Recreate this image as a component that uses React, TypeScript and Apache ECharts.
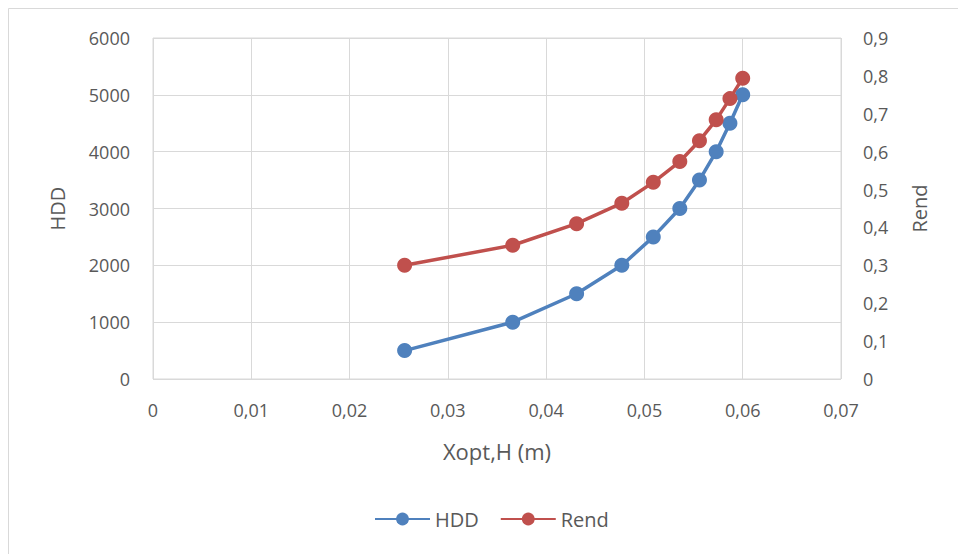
import React, { useEffect, useRef } from "react";
import * as echarts from "echarts";

const xopt = [0.0256, 0.0366, 0.0431, 0.0477, 0.0509, 0.0536, 0.0556, 0.0573, 0.0587, 0.0600];
const hdd = [500, 1000, 1500, 2000, 2500, 3000, 3500, 4000, 4500, 5000];
const rend = [0.300, 0.353, 0.410, 0.464, 0.519, 0.574, 0.629, 0.684, 0.740, 0.794];

const FONT = "'Open Sans', sans-serif";
const TXT = "#595959";
const GRID = "#d9d9d9";

const fmt = (v: number) => String(Number(v.toFixed(4))).replace(".", ",");

export default function App() {
  const ref = useRef<HTMLDivElement>(null);
  useEffect(() => {
    if (!ref.current) return;
    const chart = echarts.init(ref.current, undefined, { renderer: "svg" });
    const label = { color: TXT, fontFamily: FONT, fontSize: 18 };
    const title = { color: TXT, fontFamily: FONT, fontSize: 20 };
    chart.setOption({
      animation: false,
      backgroundColor: "#ffffff",
      textStyle: { fontFamily: FONT },
      graphic: [
        { type: "line", shape: { x1: 8.5, y1: 8.5, x2: 8.5, y2: 554 }, style: { stroke: GRID, lineWidth: 1 } },
        { type: "line", shape: { x1: 8.5, y1: 8.5, x2: 958, y2: 8.5 }, style: { stroke: GRID, lineWidth: 1 } },
      ],
      grid: { left: 153, right: 117, top: 38, bottom: 175, show: true, borderColor: GRID, borderWidth: 1 },
      legend: {
        left: 369,
        top: 504,
        itemWidth: 55,
        itemHeight: 16,
        itemGap: 21,
        textStyle: { color: TXT, fontFamily: FONT, fontSize: 20 },
        data: ["HDD", "Rend"],
      },
      xAxis: {
        type: "value",
        min: 0,
        max: 0.07,
        interval: 0.01,
        name: "Xopt,H (m)",
        nameLocation: "middle",
        nameGap: 61,
        nameTextStyle: { ...title, fontSize: 22 },
        axisLine: { show: false },
        axisTick: { show: false },
        axisLabel: { ...label, margin: 22, formatter: fmt },
        splitLine: { show: true, lineStyle: { color: GRID, width: 1 } },
      },
      yAxis: [
        {
          type: "value",
          min: 0,
          max: 6000,
          interval: 1000,
          name: "HDD",
          nameLocation: "middle",
          nameGap: 86,
          nameTextStyle: { ...title },
          axisLine: { show: false },
          axisTick: { show: false },
          axisLabel: { ...label, margin: 23, formatter: (v: number) => String(v) },
          splitLine: { show: true, lineStyle: { color: GRID, width: 1 } },
        },
        {
          type: "value",
          min: 0,
          max: 0.9,
          interval: 0.1,
          name: "Rend",
          nameLocation: "middle",
          nameGap: 68,
          nameTextStyle: { ...title },
          axisLine: { show: false },
          axisTick: { show: false },
          axisLabel: { ...label, margin: 22, formatter: fmt },
          splitLine: { show: false },
        },
      ],
      series: [
        {
          name: "HDD",
          type: "line",
          yAxisIndex: 0,
          data: xopt.map((x, i) => [x, hdd[i]]),
          symbol: "circle",
          symbolSize: 15,
          color: "#4F81BD",
          lineStyle: { width: 3.5, color: "#4F81BD" },
          itemStyle: { color: "#4F81BD" },
        },
        {
          name: "Rend",
          type: "line",
          yAxisIndex: 1,
          data: xopt.map((x, i) => [x, rend[i]]),
          symbol: "circle",
          symbolSize: 15,
          color: "#C0504D",
          lineStyle: { width: 3.5, color: "#C0504D" },
          itemStyle: { color: "#C0504D" },
        },
      ],
    });
    return () => chart.dispose();
  }, []);
  return <div ref={ref} style={{ position: "fixed", left: 0, top: 0, width: 958, height: 554 }} />;
}
